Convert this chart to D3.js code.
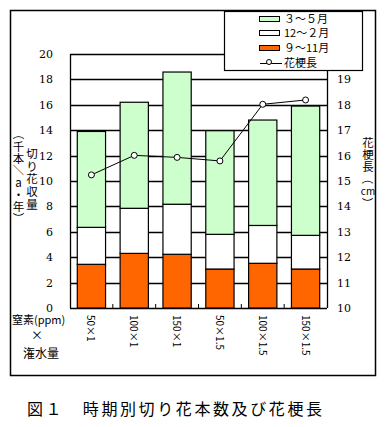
<!DOCTYPE html>
<html lang="ja">
<head>
<meta charset="utf-8">
<title>時期別切り花本数及び花梗長</title>
<script src="https://cdn.jsdelivr.net/npm/d3@7"></script>
<style>
  body { margin: 0; background: #fff; }
  text { font-family: "Noto Sans CJK JP", sans-serif; fill: #000; }
  .num { font-family: "DejaVu Serif", "Liberation Serif", serif; font-size: 11px; }
</style>
</head>
<body>
<script>
var categories = ["50×1", "100×1", "150×1", "50×1.5", "100×1.5", "150×1.5"];
var autumn = [3.44, 4.3, 4.23, 3.07, 3.52, 3.07];   // 9～11月
var winter = [2.91, 3.55, 3.94, 2.73, 2.98, 2.65];  // 12～2月
var spring = [7.55, 8.35, 10.41, 8.16, 8.3, 10.18]; // 3～5月
var stemLength = [15.24, 16.01, 15.93, 15.79, 18.02, 18.19];
var leftTicks = [0, 2, 4, 6, 8, 10, 12, 14, 16, 18, 20];
var rightTicks = [10, 11, 12, 13, 14, 15, 16, 17, 18, 19, 20];
var seriesNames = ["３～５月", "12～２月", "９～11月"];
var seriesKeys = ["autumn", "winter", "spring"];

var w = 386, h = 427;
var plotL = 70, plotR = 327, plotT = 54, plotB = 308;

var svg = d3.select("body").append("svg").attr("width", w).attr("height", h);

// outer frame
svg.append("rect").attr("x", 10.5).attr("y", 10.5).attr("width", 365).attr("height", 365)
   .attr("fill", "none").attr("stroke", "#000").attr("stroke-width", 1.5);

var x = d3.scaleBand().domain(categories).range([plotL, plotR]).paddingInner(0.34).paddingOuter(0.17);
var y = d3.scaleLinear().domain([0, 20]).range([plotB, plotT]);
var y2 = d3.scaleLinear().domain([10, 20]).range([plotB, plotT]);

// gridlines
svg.append("g").selectAll("line").data(leftTicks).enter().append("line")
   .attr("x1", plotL).attr("x2", plotR)
   .attr("y1", function(d) { return Math.round(y(d)) + 0.5; })
   .attr("y2", function(d) { return Math.round(y(d)) + 0.5; })
   .attr("stroke", "#000").attr("stroke-width", 1.3);

// frame of plot
svg.append("line").attr("x1", plotL + 0.5).attr("x2", plotL + 0.5).attr("y1", plotT).attr("y2", plotB)
   .attr("stroke", "#000").attr("stroke-width", 1.3);
svg.append("line").attr("x1", plotR + 0.5).attr("x2", plotR + 0.5).attr("y1", plotT).attr("y2", plotB)
   .attr("stroke", "#000").attr("stroke-width", 1.3);

// stacked bars
var table = categories.map(function(c, i) {
  return { cat: c, autumn: autumn[i], winter: winter[i], spring: spring[i] };
});
var stack = d3.stack().keys(seriesKeys)(table);
var colors = { autumn: "#ff6600", winter: "#ffffff", spring: "#ccffcc" };

svg.append("g").selectAll("g").data(stack).enter().append("g")
   .attr("fill", function(d) { return colors[d.key]; })
   .selectAll("rect").data(function(d) { return d; }).enter().append("rect")
   .attr("x", function(d) { return x(d.data.cat); })
   .attr("y", function(d) { return y(d[1]); })
   .attr("width", x.bandwidth())
   .attr("height", function(d) { return y(d[0]) - y(d[1]); })
   .attr("stroke", "#000").attr("stroke-width", 1.2);

// category tick marks at bottom
var step = x.step();
svg.append("g").selectAll("line").data(d3.range(1, categories.length)).enter().append("line")
   .attr("x1", function(d) { return plotL + d * step; })
   .attr("x2", function(d) { return plotL + d * step; })
   .attr("y1", plotB).attr("y2", plotB - 4)
   .attr("stroke", "#000").attr("stroke-width", 1);

// left tick labels
svg.append("g").selectAll("text").data(leftTicks).enter().append("text")
   .attr("class", "num")
   .attr("x", 53).attr("y", function(d) { return y(d) + 4; })
   .attr("text-anchor", "end")
   .text(function(d) { return d; });

// right tick labels
svg.append("g").selectAll("text").data(rightTicks).enter().append("text")
   .attr("class", "num")
   .attr("x", 337).attr("y", function(d) { return y2(d) + 4; })
   .text(function(d) { return d; });

// stem length line
var line = d3.line()
   .x(function(d, i) { return x(categories[i]) + x.bandwidth() / 2; })
   .y(function(d) { return y2(d); });
svg.append("path").datum(stemLength).attr("d", line)
   .attr("fill", "none").attr("stroke", "#000").attr("stroke-width", 1);
svg.append("g").selectAll("circle").data(stemLength).enter().append("circle")
   .attr("cx", function(d, i) { return x(categories[i]) + x.bandwidth() / 2; })
   .attr("cy", function(d) { return y2(d); })
   .attr("r", 3).attr("fill", "#fff").attr("stroke", "#000").attr("stroke-width", 1);

// x labels, rotated
svg.append("g").selectAll("text").data(categories).enter().append("text")
   .attr("transform", function(d) {
     return "translate(" + (x(d) + x.bandwidth() / 2 - 4) + ",315) rotate(90)";
   })
   .attr("font-size", 10)
   .text(function(d) { return d; });

svg.append("text").attr("x", 12).attr("y", 324).attr("font-size", 11).text("窒素(ppm)");
svg.append("text").attr("x", 37).attr("y", 340).attr("font-size", 12).attr("text-anchor", "middle").text("×");
svg.append("text").attr("x", 41).attr("y", 358).attr("font-size", 12).attr("text-anchor", "middle").text("潅水量");

// vertical axis titles
function vertical(chars, cx, y0, dy) {
  svg.append("g").selectAll("text").data(chars).enter().append("text")
     .attr("x", cx).attr("y", function(d, i) { return y0 + i * dy; })
     .attr("text-anchor", "middle").attr("dominant-baseline", "central")
     .attr("font-size", function(d) { return d === "cm" ? 10 : 11.5; })
     .attr("transform", function(d, i) {
       return (d === "（" || d === "）" || d === "／") ?
         "rotate(90," + cx + "," + (y0 + i * dy) + ")" : null;
     })
     .text(function(d) { return d; });
}
vertical(["（", "千", "本", "／", "a", "・", "年", "）"], 18.5, 134, 12);
vertical(["切", "り", "花", "収", "量"], 32, 153, 12.7);
vertical(["花", "梗", "長", "（", "cm", "）"], 368, 142, 12.2);

// legend
var lg = svg.append("g");
lg.append("rect").attr("x", 224.5).attr("y", 11.5).attr("width", 138).attr("height", 59)
  .attr("fill", "#fff").attr("stroke", "#000").attr("stroke-width", 1.2);
var legendRows = [19, 33, 48];
var legendFill = ["#ccffcc", "#ffffff", "#ff6600"];
lg.selectAll("rect.sw").data(seriesNames).enter().append("rect").attr("class", "sw")
  .attr("x", 259.5).attr("y", function(d, i) { return legendRows[i] - 2.5; })
  .attr("width", 20).attr("height", 5)
  .attr("fill", function(d, i) { return legendFill[i]; })
  .attr("stroke", "#000").attr("stroke-width", 1);
lg.selectAll("text.lt").data(seriesNames).enter().append("text").attr("class", "lt")
  .attr("x", 284).attr("y", function(d, i) { return legendRows[i] + 4; })
  .attr("font-size", 11).text(function(d) { return d; });
lg.append("line").attr("x1", 260).attr("x2", 282).attr("y1", 63.5).attr("y2", 63.5)
  .attr("stroke", "#000").attr("stroke-width", 1);
lg.append("circle").attr("cx", 269).attr("cy", 62).attr("r", 2.5)
  .attr("fill", "#fff").attr("stroke", "#000");
lg.append("text").attr("x", 284).attr("y", 67).attr("font-size", 11).text("花梗長");

// caption
svg.append("text").attr("x", 27).attr("y", 415).attr("font-size", 16)
   .attr("letter-spacing", 2.6).text("図１　時期別切り花本数及び花梗長");
</script>
</body>
</html>
